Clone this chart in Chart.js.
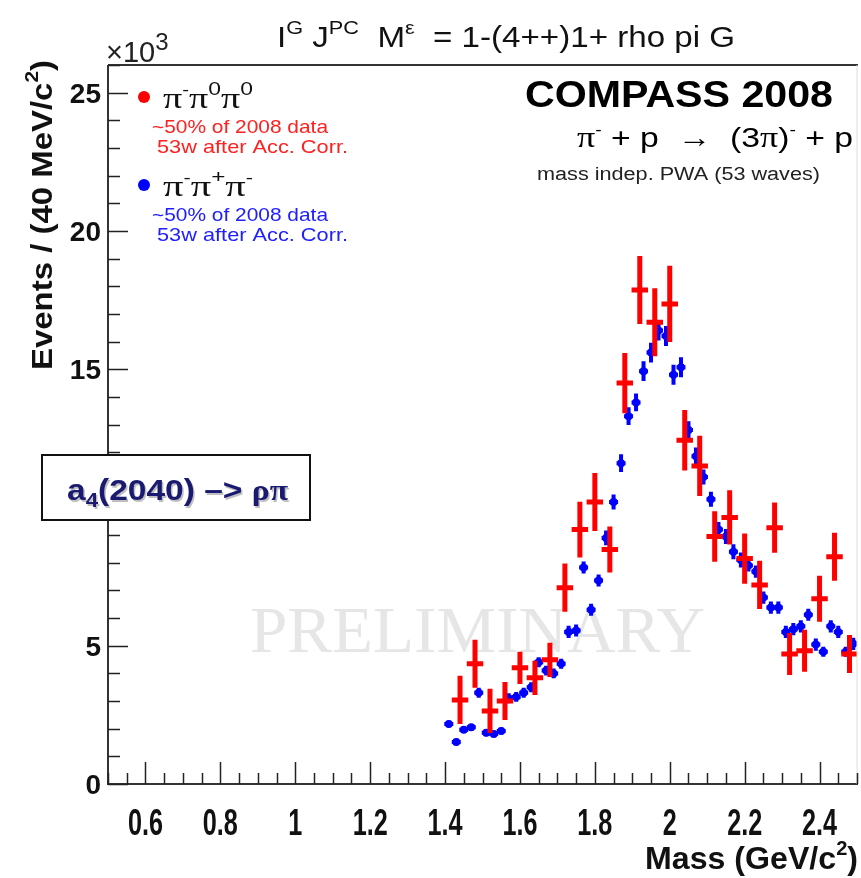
<!DOCTYPE html>
<html>
<head>
<meta charset="utf-8">
<script src="https://cdn.jsdelivr.net/npm/chart.js@4.4.0/dist/chart.umd.min.js"></script>
<style>
  html, body { margin: 0; padding: 0; background: #fff; }
  canvas { display: block; }
</style>
</head>
<body>
<canvas id="massChart" width="861" height="878"></canvas>
<script>
// pi- pi0 pi0 (red), 40 MeV bins
const massRed = [1.44, 1.48, 1.52, 1.56, 1.60, 1.64, 1.68, 1.72, 1.76, 1.80, 1.84, 1.88, 1.92, 1.96,
                 2.00, 2.04, 2.08, 2.12, 2.16, 2.20, 2.24, 2.28, 2.32, 2.36, 2.40, 2.44, 2.48];
const eventsRed = [3.04, 4.35, 2.64, 3.0, 4.2, 3.84, 4.49, 7.1, 9.2, 10.2, 8.48, 14.5, 17.86, 16.7,
                   17.36, 12.43, 11.5, 8.95, 9.64, 8.15, 7.2, 9.27, 4.7, 4.82, 6.7, 8.22, 4.7];
const errRed = [0.87, 0.87, 0.80, 0.69, 0.58, 0.62, 0.62, 0.87, 1.01, 1.05, 0.83, 1.09, 1.23, 1.23,
                1.38, 1.09, 1.09, 0.91, 0.98, 0.91, 0.87, 0.91, 0.76, 0.76, 0.83, 0.87, 0.69];

// pi- pi+ pi- (blue)
const massBlue = [1.41, 1.43, 1.45, 1.47, 1.49, 1.51, 1.53, 1.55, 1.57, 1.59, 1.61, 1.63, 1.65, 1.67,
                  1.69, 1.71, 1.73, 1.75, 1.77, 1.79, 1.81, 1.83, 1.85, 1.87, 1.89, 1.91, 1.93, 1.95,
                  1.97, 1.99, 2.01, 2.03, 2.05, 2.07, 2.09, 2.11, 2.13, 2.15, 2.17, 2.19, 2.21, 2.23,
                  2.25, 2.27, 2.29, 2.31, 2.33, 2.35, 2.37, 2.39, 2.41, 2.43, 2.45, 2.47, 2.49];
const eventsBlue = [2.17, 1.52, 1.96, 2.05, 3.3, 1.85, 1.81, 1.92, 3.1, 3.15, 3.3, 3.5, 4.4, 4.1,
                    4.0, 4.35, 5.5, 5.55, 7.83, 6.3, 7.36, 8.9, 10.2, 11.6, 13.3, 13.8, 14.93, 15.6,
                    16.4, 16.2, 14.8, 15.07, 12.8, 11.85, 11.1, 10.3, 9.2, 8.95, 8.4, 8.1, 7.9, 7.68,
                    6.74, 6.38, 6.38, 5.5, 5.6, 5.7, 6.12, 5.04, 4.78, 5.7, 5.5, 4.78, 5.07];
const errBlue = [0.12, 0.12, 0.12, 0.12, 0.18, 0.12, 0.12, 0.12, 0.18, 0.18, 0.18, 0.18, 0.18, 0.18,
                 0.18, 0.18, 0.22, 0.22, 0.22, 0.22, 0.22, 0.27, 0.27, 0.32, 0.32, 0.32, 0.36, 0.36,
                 0.36, 0.36, 0.36, 0.36, 0.32, 0.32, 0.27, 0.27, 0.27, 0.27, 0.27, 0.27, 0.22, 0.22,
                 0.22, 0.22, 0.22, 0.22, 0.22, 0.22, 0.22, 0.22, 0.18, 0.22, 0.22, 0.18, 0.22];

const xTickLabels = ['0.6', '0.8', '1', '1.2', '1.4', '1.6', '1.8', '2', '2.2', '2.4'];
const yTickLabels = ['0', '5', '10', '15', '20', '25'];

const SANS = '"Liberation Sans", Arial, sans-serif';
const SERIF = '"Liberation Serif", "Times New Roman", serif';

// draws text made of pieces (normal / superscript / subscript), optionally squeezed
function richText(ctx, segs, x, y, opts) {
    const o = opts || {};
    const fontOf = s => `${s.b || o.bold ? 'bold' : 'normal'} ${s.s || o.size}px ${s.f || o.family || SANS}`;
    let w = 0;
    segs.forEach(s => { ctx.font = fontOf(s); w += ctx.measureText(s.t).width; });
    const sx = o.width ? o.width / w : (o.sx || 1);
    ctx.save();
    ctx.translate(x, y);
    if (o.rotate) ctx.rotate(o.rotate);
    ctx.scale(sx, 1);
    let cx = o.align === 'center' ? -w / 2 : (o.align === 'right' ? -w : 0);
    ctx.fillStyle = o.color || '#000';
    ctx.textAlign = 'left';
    ctx.textBaseline = 'alphabetic';
    if (o.shadow) {
        ctx.shadowColor = o.shadow;
        ctx.shadowOffsetX = 1.5;
        ctx.shadowOffsetY = 1.5;
    }
    segs.forEach(s => {
        ctx.font = fontOf(s);
        ctx.fillText(s.t, cx, s.dy || 0);
        cx += ctx.measureText(s.t).width;
    });
    ctx.restore();
}

function errorBars(chart, xs, ys, es, halfW, color, lw) {
    const ctx = chart.ctx;
    const sx = chart.scales.x, sy = chart.scales.y;
    ctx.save();
    ctx.strokeStyle = color;
    ctx.lineWidth = lw;
    ctx.lineCap = 'butt';
    for (let i = 0; i < xs.length; i++) {
        const px = sx.getPixelForValue(xs[i]);
        const py = sy.getPixelForValue(ys[i]);
        ctx.beginPath();
        ctx.moveTo(px, sy.getPixelForValue(ys[i] - es[i]));
        ctx.lineTo(px, sy.getPixelForValue(ys[i] + es[i]));
        ctx.moveTo(sx.getPixelForValue(xs[i] - halfW), py);
        ctx.lineTo(Math.min(sx.getPixelForValue(xs[i] + halfW), chart.chartArea.right), py);
        ctx.stroke();
    }
    ctx.restore();
}

const compassPlugin = {
    id: 'compassDecor',
    beforeDatasetsDraw(chart) {
        const ctx = chart.ctx;
        // watermark
        richText(ctx, [{t: 'PRELIMINARY'}], 250, 652,
            {size: 66, family: SERIF, color: '#e6e6e6', width: 455});
        errorBars(chart, massBlue, eventsBlue, errBlue, 0.012, '#0000ff', 4);
    },
    afterDatasetsDraw(chart) {
        const ctx = chart.ctx;
        const sx = chart.scales.x, sy = chart.scales.y;
        const a = chart.chartArea;

        errorBars(chart, massRed, eventsRed, errRed, 0.022, '#ff0000', 5);

        // frame + axes
        ctx.save();
        ctx.strokeStyle = '#333';
        ctx.lineWidth = 2;
        ctx.beginPath();
        ctx.moveTo(a.left, a.top);
        ctx.lineTo(a.right + 1, a.top);
        ctx.moveTo(a.left, a.top);
        ctx.lineTo(a.left, a.bottom);
        ctx.lineTo(a.right + 1, a.bottom);
        ctx.stroke();
        ctx.strokeStyle = '#ddd';
        ctx.lineWidth = 1;
        ctx.beginPath();
        ctx.moveTo(a.right, a.top);
        ctx.lineTo(a.right, a.bottom);
        ctx.stroke();

        // ticks (drawn inside the frame)
        ctx.strokeStyle = '#222';
        ctx.lineWidth = 1.5;
        ctx.beginPath();
        for (let k = 0; k <= 40; k++) {
            const v = 0.5 + k * 0.05;
            const px = Math.round(sx.getPixelForValue(v)) + 0.5;
            const major = Math.abs(v / 0.2 - Math.round(v / 0.2)) < 1e-6;
            ctx.moveTo(px, a.bottom);
            ctx.lineTo(px, a.bottom - (major ? 22 : 11));
        }
        for (let v = 0; v <= 26; v++) {
            const py = Math.round(sy.getPixelForValue(v)) + 0.5;
            ctx.moveTo(a.left, py);
            ctx.lineTo(a.left + (v % 5 === 0 ? 20 : 12), py);
        }
        ctx.stroke();
        ctx.restore();

        // tick labels
        xTickLabels.forEach(l => {
            richText(ctx, [{t: l}], sx.getPixelForValue(parseFloat(l)), 835,
                {size: 36, bold: true, align: 'center', color: '#111', sx: 0.7});
        });
        yTickLabels.forEach(l => {
            richText(ctx, [{t: l}], 101, sy.getPixelForValue(parseFloat(l)) + 10,
                {size: 28, bold: true, align: 'right', color: '#111'});
        });
        richText(ctx, [{t: '\u00d710', s: 29}, {t: '3', s: 24, dy: -12}], 106, 62, {color: '#222'});

        // axis titles
        richText(ctx, [{t: 'Mass (GeV/c'}, {t: '2', s: 20, dy: -14}, {t: ')'}], 858, 869,
            {size: 32, bold: true, align: 'right', width: 213, color: '#111'});
        richText(ctx, [{t: 'Events / (40 MeV/c'}, {t: '2', s: 19, dy: -14}, {t: ')'}], 52, 370,
            {size: 30, bold: true, rotate: -Math.PI / 2, width: 310, color: '#111'});

        // title
        richText(ctx, [
            {t: 'I'}, {t: 'G', s: 19, dy: -13}, {t: ' J'}, {t: 'PC', s: 19, dy: -13},
            {t: '  M'}, {t: '\u03b5', s: 19, dy: -13}, {t: '  = 1-(4++)1+ rho pi G'}
        ], 277, 47, {size: 29, width: 458, color: '#111'});

        // experiment labels
        richText(ctx, [{t: 'COMPASS 2008'}], 525, 107, {size: 36, bold: true, width: 308});
        richText(ctx, [
            {t: '\u03c0', f: SERIF, s: 30}, {t: '-', s: 16, dy: -12}, {t: ' + p  '},
            {t: '\u2192', f: SERIF}, {t: '  (3'}, {t: '\u03c0', f: SERIF, s: 30}, {t: ')'},
            {t: '-', s: 16, dy: -12}, {t: ' + p'}
        ], 577, 147, {size: 28, width: 276});
        richText(ctx, [{t: 'mass indep. PWA (53 waves)'}], 537, 180, {size: 18, width: 283, color: '#222'});

        // legend
        const legend = [
            {y: 97, color: '#ff0000', name: ['-', '0', '0']},
            {y: 185, color: '#0000ff', name: ['-', '+', '-']}
        ];
        legend.forEach((g, i) => {
            ctx.save();
            ctx.fillStyle = g.color;
            ctx.beginPath();
            ctx.arc(144, g.y, 6, 0, Math.PI * 2);
            ctx.fill();
            ctx.restore();
            const segs = [];
            g.name.forEach(c => {
                segs.push({t: '\u03c0', f: SERIF, s: 30});
                segs.push({t: c, s: c === '-' ? 16 : 18, dy: -13});
            });
            richText(ctx, segs, 163, g.y + 11, {size: 30, width: 90, color: '#111'});
            const tc = i === 0 ? '#ff2020' : '#2020ff';
            richText(ctx, [{t: '~50% of 2008 data'}], 152, g.y + 36, {size: 19, width: 176, color: tc});
            richText(ctx, [{t: '53w after Acc. Corr.'}], 157, g.y + 56, {size: 19, width: 191, color: tc});
        });

        // resonance box
        ctx.save();
        ctx.fillStyle = '#fff';
        ctx.fillRect(42, 455, 268, 65);
        ctx.strokeStyle = '#111';
        ctx.lineWidth = 2;
        ctx.strokeRect(42, 455, 268, 65);
        ctx.restore();
        richText(ctx, [
            {t: 'a'}, {t: '4', s: 20, dy: 7}, {t: '(2040) \u2013> '}, {t: '\u03c1\u03c0', f: SERIF, b: true}
        ], 67, 500, {size: 30, bold: true, width: 221, color: '#1a1a70', shadow: 'rgba(0,0,0,0.25)'});
    }
};

const ctx = document.getElementById('massChart').getContext('2d');
const massChart = new Chart(ctx, {
    type: 'scatter',
    data: {
        datasets: [{
            label: '\u03c0\u207b\u03c0\u2070\u03c0\u2070',
            data: massRed.map((m, i) => ({x: m, y: eventsRed[i]})),
            pointRadius: 0,
            backgroundColor: '#ff0000',
            borderColor: '#ff0000'
        }, {
            label: '\u03c0\u207b\u03c0\u207a\u03c0\u207b',
            data: massBlue.map((m, i) => ({x: m, y: eventsBlue[i]})),
            pointRadius: 4,
            pointBorderWidth: 0,
            backgroundColor: '#0000ff',
            borderColor: '#0000ff'
        }]
    },
    options: {
        responsive: false,
        animation: false,
        layout: {padding: {left: 108, right: 1, top: 65, bottom: 94}},
        plugins: {
            legend: {display: false},
            tooltip: {enabled: false}
        },
        scales: {
            x: {type: 'linear', min: 0.5, max: 2.5, display: false},
            y: {type: 'linear', min: 0, max: 26, display: false}
        }
    },
    plugins: [compassPlugin]
});
</script>
</body>
</html>
